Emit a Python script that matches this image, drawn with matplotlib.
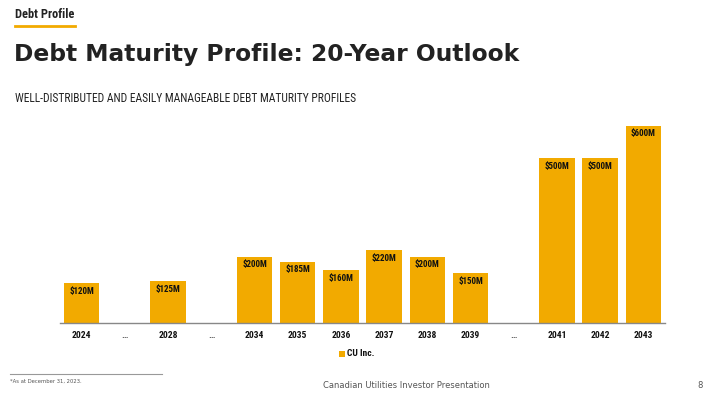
import matplotlib
matplotlib.use("Agg")
import matplotlib.pyplot as plt
from matplotlib.patches import Rectangle
from matplotlib.lines import Line2D
from matplotlib import font_manager as fm

categories = ["2024", "…", "2028", "…", "2034", "2035", "2036", "2037", "2038", "2039", "…", "2041", "2042", "2043"]
values = [120, None, 125, None, 200, 185, 160, 220, 200, 150, None, 500, 500, 600]
bar_labels = ["$120M", "", "$125M", "", "$200M", "$185M", "$160M", "$220M", "$200M", "$150M", "", "$500M", "$500M", "$600M"]
series_name = "CU Inc."

names = {f.name for f in fm.fontManager.ttflist}
NARROW = "Liberation Sans"
for cand in ["Roboto Condensed", "Liberation Sans Narrow", "Open Sans Condensed"]:
    if cand in names:
        NARROW = cand
        break
TITLE_FONT = "DejaVu Sans"

GOLD = "#F2AA00"
W, H = 710, 399
fig = plt.figure(figsize=(W / 100, H / 100), dpi=100)
fig.patch.set_facecolor("white")

def fx(px):
    return px / W

def fy(py):
    return 1 - py / H

ax = fig.add_axes([fx(60), fy(322.5), fx(665) - fx(60), (322.5 - 118) / H])
xs = list(range(len(categories)))
for x, v, lab in zip(xs, values, bar_labels):
    if v is None:
        continue
    ax.bar(x, v, width=0.82, color=GOLD, edgecolor="none", zorder=2)
    ax.text(x, v - 11, lab, ha="center", va="top", fontsize=6.5, fontweight="bold",
            family=NARROW, color="#111111", zorder=3)

ax.set_xlim(-0.5, 13.5)
ax.set_ylim(0, 623)
ax.set_xticks(xs)
ax.set_xticklabels(categories)
for t, c in zip(ax.get_xticklabels(), categories):
    t.set_fontsize(6.8)
    t.set_fontweight("bold")
    t.set_family(NARROW)
    t.set_color("#555555" if c == "…" else "#111111")
ax.tick_params(axis="x", length=0, pad=6)
ax.set_yticks([])
for s in ["top", "right", "left"]:
    ax.spines[s].set_visible(False)
ax.spines["bottom"].set_color("#888888")
ax.spines["bottom"].set_linewidth(1.0)

# legend
fig.patches.append(Rectangle((fx(339), fy(357)), 6 / W, 6 / H, transform=fig.transFigure,
                             facecolor=GOLD, edgecolor="none"))
fig.text(fx(347), fy(354), series_name, fontsize=6.8, fontweight="bold", family=NARROW,
         color="#111111", va="center", ha="left")

# header
fig.text(fx(15), fy(15), "Debt Profile", fontsize=8.9, fontweight="bold", family=NARROW,
         color="#222222", va="center", ha="left")
fig.lines.append(Line2D([fx(15), fx(75)], [fy(25.5), fy(25.5)], transform=fig.transFigure,
                        color=GOLD, linewidth=2))
fig.text(fx(14), fy(55), "Debt Maturity Profile: 20-Year Outlook", fontsize=16.8, fontweight="bold",
         family=TITLE_FONT, color="#222222", va="center", ha="left")
fig.text(fx(15), fy(98), "WELL-DISTRIBUTED AND EASILY MANAGEABLE DEBT MATURITY PROFILES", fontsize=8.3,
         family=NARROW, color="#222222", va="center", ha="left")

# footer
fig.lines.append(Line2D([fx(10), fx(162)], [fy(374), fy(374)], transform=fig.transFigure,
                        color="#999999", linewidth=0.8))
fig.text(fx(10), fy(381), "*As at December 31, 2023.", fontsize=3.8, color="#555555", va="center", ha="left")
fig.text(fx(490), fy(386), "Canadian Utilities Investor Presentation", fontsize=6, color="#555555",
         va="center", ha="right")
fig.text(fx(703), fy(386), "8", fontsize=6, color="#555555", va="center", ha="right")

fig.savefig("out.png", dpi=100, facecolor="white")
